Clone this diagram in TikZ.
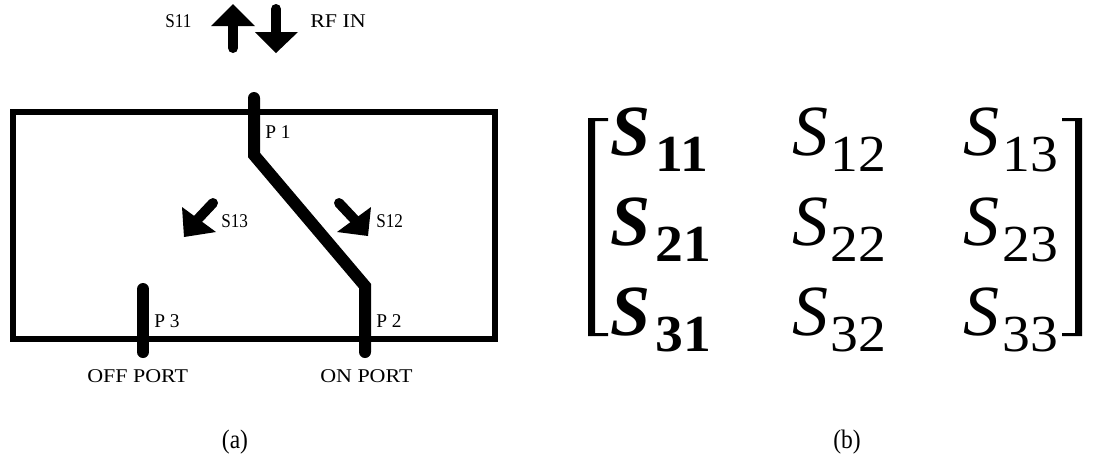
\documentclass[tikz,border=0pt]{standalone}
\usepackage{graphicx}
\usepackage{fontspec}
\setmainfont{Liberation Serif}[FakeStretch=1.13]
\newfontfamily\mathish{Liberation Serif}
\newfontfamily\digitish{Liberation Serif}[FakeStretch=1.07]
\newcommand{\lblfont}{\fontsize{14.6pt}{16pt}\selectfont}
\newcommand{\capfont}{\mathish\fontsize{20pt}{22pt}\selectfont}
\newcommand{\Sentry}[5]{%
  \node[entry] (#1) at (#2,#3) {\makebox[#4pt][l]{\fontsize{54pt}{56pt}\selectfont\itshape S}\raisebox{-12pt}{\digitish\fontsize{39pt}{41pt}\selectfont #5}};}
\newcommand{\Bentry}[5]{%
  \node[entry] (#1) at (#2,#3) {\makebox[#4pt][l]{\fontsize{54pt}{56pt}\selectfont\bfseries\itshape S}\raisebox{-12pt}{\digitish\fontsize{39pt}{41pt}\selectfont\bfseries #5}};}
\tikzset{
  px/.style={x=0.75pt,y=-0.75pt},
  frame/.style={draw=black,line width=4.5pt,miter limit=10},
  portline/.style={draw=black,line width=9pt,line cap=round,line join=miter},
  shaft/.style={draw=black,line width=7.5pt,line cap=round},
  head/.style={fill=black,draw=none},
  lbl/.style={anchor=base west,inner sep=0pt,font=\lblfont},
  capt/.style={anchor=center,inner sep=0pt,font=\capfont},
  entry/.style={anchor=base west,inner sep=0pt,font=\mathish},
}
\begin{document}
\begin{tikzpicture}[px]
\useasboundingbox (0,0) rectangle (1095,458);
% frame
\coordinate (tl) at (13,112);
\coordinate (br) at (495,339);
\draw[frame] (tl) rectangle (br);
% switch
\coordinate (p1top) at (254,98);
\coordinate (p1bend) at (254,155);
\coordinate (p2bend) at (365,286);
\coordinate (p2end) at (365,352);
\coordinate (p3top) at (143,289);
\coordinate (p3end) at (143,352);
\draw[portline] (p1top) -- (p1bend) -- (p2bend) -- (p2end);
\draw[portline] (p3top) -- (p3end);
% top arrows
\coordinate (upa) at (233,48);
\coordinate (upb) at (233,22);
\coordinate (dna) at (276,9);
\coordinate (dnb) at (276,36);
\draw[shaft] (upa) -- (upb);
\fill[head] (233,4) -- (255,26) -- (211,26) -- cycle;
\draw[shaft] (dna) -- (dnb);
\fill[head] (276,53) -- (298,32) -- (255,32) -- cycle;
% inner arrows
\coordinate (s13a) at (213,203);
\coordinate (s13b) at (197,220);
\draw[shaft] (s13a) -- (s13b);
\fill[head] (184,237) -- (182,207) -- (216,232) -- cycle;
\coordinate (s12a) at (339,203);
\coordinate (s12b) at (355,220);
\draw[shaft] (s12a) -- (s12b);
\fill[head] (368,236) -- (371,207) -- (337,232) -- cycle;
% labels
\node[lbl] (ls11) at (165,27) {\scalebox{0.78}[1]{S11}};
\node[lbl] (lrf) at (310,27) {RF IN};
\node[lbl] (lp1) at (265,138) {\scalebox{0.88}[1]{P 1}};
\node[lbl] (ls13) at (221,227) {\scalebox{0.78}[1]{S13}};
\node[lbl] (ls12) at (376,227) {\scalebox{0.78}[1]{S12}};
\node[lbl] (lp3) at (154,327) {\scalebox{0.88}[1]{P 3}};
\node[lbl] (lp2) at (376,327) {\scalebox{0.88}[1]{P 2}};
\node[lbl] (loff) at (87,382) {OFF PORT};
\node[lbl] (lon) at (320,382) {ON PORT};
\node[capt] (capa) at (235,442) {\scalebox{0.88}[1]{(a)}};
\node[capt] (capb) at (847,442) {\scalebox{0.88}[1]{(b)}};
% matrix
\fill (588,118) -- (608,118) -- (608,121) -- (595,121) -- (595,333) -- (608,333) -- (608,336) -- (588,336) -- cycle;
\fill (1082,118) -- (1062,118) -- (1062,121) -- (1075,121) -- (1075,333) -- (1062,333) -- (1062,336) -- (1082,336) -- cycle;
\Bentry{s11}{610}{155}{33.75}{11}
\Sentry{s12}{792}{155}{28.5}{12}
\Sentry{s13}{963}{155}{29.25}{13}
\Bentry{s21}{610}{245}{33.75}{21}
\Sentry{s22}{792}{245}{28.5}{22}
\Sentry{s23}{963}{245}{29.25}{23}
\Bentry{s31}{610}{335}{33.75}{31}
\Sentry{s32}{792}{335}{28.5}{32}
\Sentry{s33}{963}{335}{29.25}{33}
\end{tikzpicture}
\end{document}
